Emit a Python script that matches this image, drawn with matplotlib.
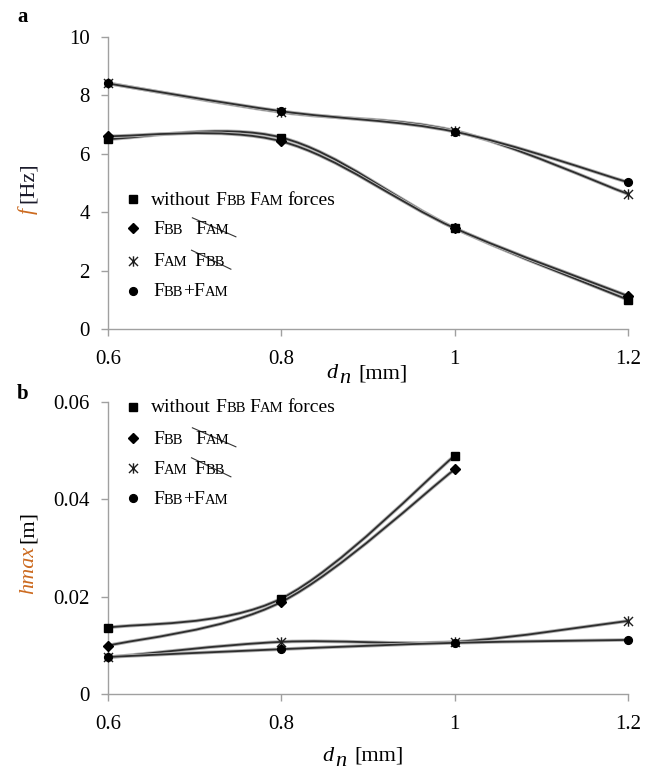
import numpy as np
import matplotlib
matplotlib.use('Agg')
import matplotlib.pyplot as plt
from matplotlib.path import Path
from matplotlib.patches import PathPatch
from matplotlib.lines import Line2D
import matplotlib.patheffects as pe

# ---------------- data ----------------
x_dn = [0.6, 0.8, 1.0, 1.2]
x_dn_short = [0.6, 0.8, 1.0]

f_without = [6.50, 6.55, 3.45, 1.00]
f_fbb = [6.60, 6.42, 3.45, 1.13]
f_fam = [8.41, 7.42, 6.78, 4.62]
f_both = [8.40, 7.45, 6.75, 5.02]

h_without = [0.0136, 0.0196, 0.0489]
h_fbb = [0.0099, 0.0189, 0.0461]
h_fam = [0.0075, 0.0107, 0.0107, 0.0150]
h_both = [0.0076, 0.0092, 0.0105, 0.0111]

x_ticks = [0.6, 0.8, 1.0, 1.2]
x_tick_labels = ['0.6', '0.8', '1', '1.2']
f_ticks = [0, 2, 4, 6, 8, 10]
f_tick_labels = ['0', '2', '4', '6', '8', '10']
h_ticks = [0, 0.02, 0.04, 0.06]
h_tick_labels = ['0', '0.02', '0.04', '0.06']

# ---------------- style ----------------
W, H = 657, 770
FAM = 'Liberation Serif'
plt.rcParams['font.family'] = [FAM, 'DejaVu Serif']
LINE_C = '#2e2e2e'
AX_C = '#a0a0a0'
ORANGE = '#CC6A1F'

fig = plt.figure(figsize=(W / 100, H / 100), dpi=100)


def fx(px):
    return px / W


def fy(py):
    return 1 - py / H


ax_a = fig.add_axes([fx(108), fy(329), fx(628) - fx(108), fy(36.7) - fy(329)])
ax_b = fig.add_axes([fx(108), fy(694), fx(628) - fx(108), fy(401.7) - fy(694)])

star_path = Path([(-1, -1), (1, 1), (-1, 1), (1, -1), (0, -1.15), (0, 1.15)],
                 [Path.MOVETO, Path.LINETO, Path.MOVETO, Path.LINETO,
                  Path.MOVETO, Path.LINETO])

markers = {
    'sq': dict(marker='s', ms=5.2, mfc='black', mec='black'),
    'di': dict(marker='D', ms=4.6, mfc='black', mec='black'),
    'st': dict(marker=star_path, ms=7.5, mfc='none', mec='#1e1e1e', mew=1.0),
    'ci': dict(marker='o', ms=5.6, mfc='black', mec='black'),
}


def smooth_line(ax, xs, ys):
    P = np.column_stack([xs, ys]).astype(float)
    n = len(P)
    verts = [P[0]]
    codes = [Path.MOVETO]
    for i in range(n - 1):
        p0 = P[i - 1] if i > 0 else P[i]
        p1 = P[i]
        p2 = P[i + 1]
        p3 = P[i + 2] if i + 2 < n else P[i + 1]
        c1 = p1 + (p2 - p0) / 6.0
        c2 = p2 - (p3 - p1) / 6.0
        verts += [c1, c2, p2]
        codes += [Path.CURVE4] * 3
    patch = PathPatch(Path(verts, codes), fill=False, edgecolor=LINE_C, lw=1.3,
                      zorder=2, clip_on=False)
    patch.set_path_effects([pe.Stroke(linewidth=2.6, foreground='#b4b4b4'), pe.Normal()])
    ax.add_patch(patch)


def style_axes(ax, ylim, yticks, ylabels):
    ax.set_xlim(0.6, 1.2)
    ax.set_ylim(*ylim)
    for s in ['top', 'right']:
        ax.spines[s].set_visible(False)
    for s in ['left', 'bottom']:
        ax.spines[s].set_color(AX_C)
        ax.spines[s].set_linewidth(1.0)
    ax.set_xticks(x_ticks)
    ax.set_xticklabels(x_tick_labels)
    ax.set_yticks(yticks)
    ax.set_yticklabels(ylabels)
    ax.tick_params(axis='both', colors=AX_C, length=5, width=1.0, direction='out',
                   labelcolor='black', labelsize=15)
    ax.tick_params(axis='x', pad=10)
    ax.tick_params(axis='y', pad=8)
    ax.set_facecolor('none')


# Panel a
for ys, mk in [(f_without, 'sq'), (f_fbb, 'di'), (f_fam, 'st'), (f_both, 'ci')]:
    smooth_line(ax_a, x_dn, ys)
    ax_a.plot(x_dn, ys, ls='none', zorder=3, clip_on=False, **markers[mk])
style_axes(ax_a, (0, 10), f_ticks, f_tick_labels)

# Panel b
for xs, ys, mk in [(x_dn_short, h_without, 'sq'), (x_dn_short, h_fbb, 'di'),
                   (x_dn, h_fam, 'st'), (x_dn, h_both, 'ci')]:
    smooth_line(ax_b, xs, ys)
    ax_b.plot(xs, ys, ls='none', zorder=3, clip_on=False, **markers[mk])
style_axes(ax_b, (0, 0.06), h_ticks, h_tick_labels)

renderer = fig.canvas.get_renderer()


def pieces_h(x, y, pieces):
    """place text pieces left to right; y is baseline in px from top."""
    out = []
    for p in pieces:
        if isinstance(p, (int, float)):
            x += p
            continue
        s, kw = p
        kw = dict(kw)
        dy = kw.pop('dy', 0)
        t = fig.text(fx(x), fy(y + dy), s, ha='left', va='baseline', **kw)
        bb = t.get_window_extent(renderer)
        out.append((x, x + bb.width))
        x += bb.width
    return out


def pieces_v(x, y, pieces):
    """rotated 90 text pieces from bottom to top; x is baseline px, y start px from top."""
    for p in pieces:
        if isinstance(p, (int, float)):
            y -= p
            continue
        s, kw = p
        t = fig.text(fx(x), fy(y), s, ha='left', va='baseline', rotation=90,
                     rotation_mode='anchor', **kw)
        bb = t.get_window_extent(renderer)
        y -= bb.height


LS = 14
SS = 10.5
base = dict(fontsize=LS, color='black')
small = dict(fontsize=SS, color='black')


def strike(seg, bl):
    s0 = seg[2][0]
    s1 = seg[3][1]
    fig.add_artist(Line2D([fx(s0 - 3), fx(s1 + 6)], [fy(bl - 16), fy(bl + 3)],
                          transform=fig.transFigure, color='#333333', lw=0.8))


def legend(rows_y, x_marker=132.5, x_text=151):
    keys = ['sq', 'di', 'st', 'ci']
    for yy, mk in zip(rows_y, keys):
        m = dict(markers[mk])
        fig.add_artist(Line2D([fx(x_marker)], [fy(yy)], transform=fig.transFigure,
                              ls='none', **m))
    bl = [y + 5.5 for y in rows_y]
    pieces_h(x_text, bl[0], [('without', base), 5, ('F', base), ('BB', small), 3,
                             ('F', base), ('AM', small), 4, ('forces', base)])
    seg = pieces_h(x_text + 2, bl[1], [('F', base), ('BB', small), 12,
                                       ('F', base), ('AM', small)])
    strike(seg, bl[1])
    seg = pieces_h(x_text + 2, bl[2], [('F', base), ('AM', small), 7,
                                       ('F', base), ('BB', small)])
    strike(seg, bl[2])
    pieces_h(x_text + 2, bl[3], [('F', base), ('BB', small), ('+F', base), ('AM', small)])


legend([199.3, 228.3, 260.7, 290.7])
legend([406.7, 438.3, 468.3, 498.3])

# Axis labels
LAB = 16
it_or = dict(fontsize=LAB, style='italic', color=ORANGE)
up = dict(fontsize=LAB, color='#1a1a2a')
for xl, yl in [(326, 378), (322, 761)]:
    pieces_h(xl, yl, [('d', dict(fontsize=LAB, style='italic', color='black')), 2,
                      ('n', dict(fontsize=LAB, style='italic', color='black', dy=5)), 8,
                      ('[mm]', dict(fontsize=LAB, color='black'))])

pieces_v(33, 214, [('f', it_or), 5, ('[Hz]', up)])
pieces_v(33, 594, [('hmax', it_or), 3, ('[m]', dict(fontsize=LAB, color='black'))])

# panel letters
fig.text(fx(17), fy(22), 'a', fontsize=15, fontweight='bold', ha='left', va='baseline')
fig.text(fx(17), fy(399), 'b', fontsize=15, fontweight='bold', ha='left', va='baseline')

fig.savefig('out.png', dpi=100)
